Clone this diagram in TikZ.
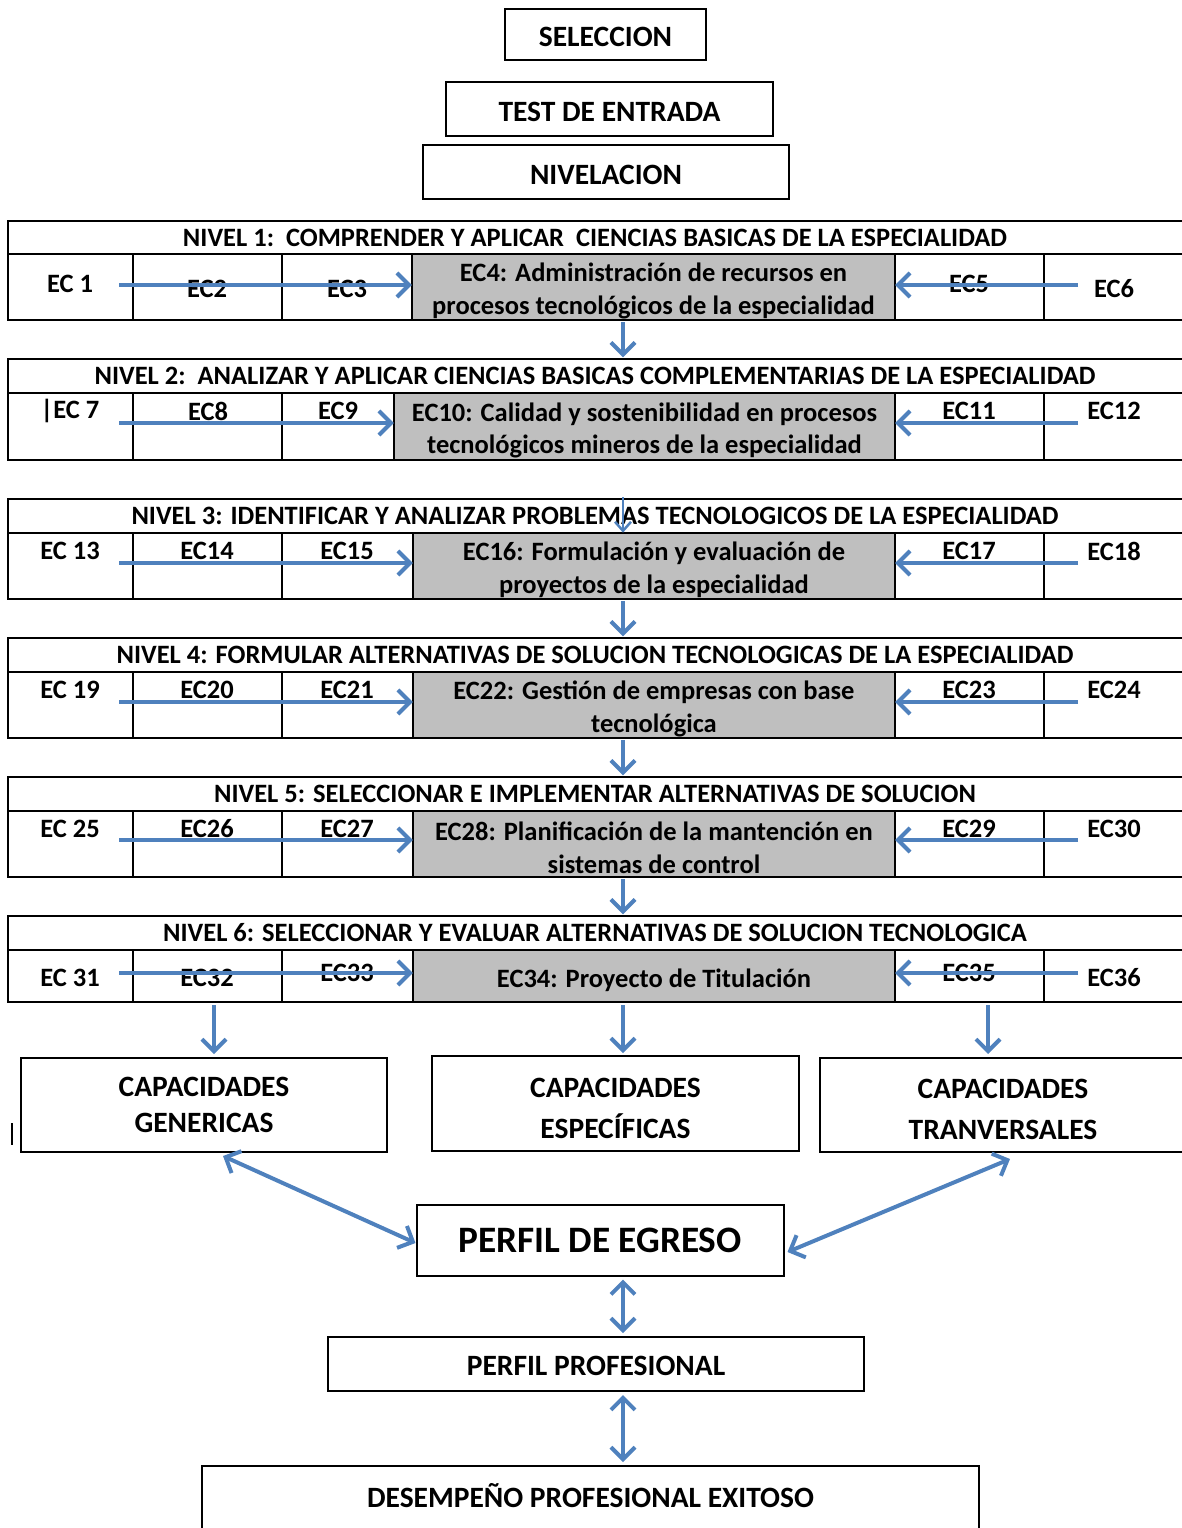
\documentclass[tikz,border=0pt]{standalone}
\usepackage{fontspec}
\setmainfont{Carlito}
\usetikzlibrary{arrows.meta}
\definecolor{arrowblue}{HTML}{4F81BD}
\definecolor{cellgray}{HTML}{BFBFBF}
\newcommand\lvlframe[4]{%
  \draw[frame] (8,#1) rectangle (1195,#3) (8,#2) -- (1195,#2)
    (133,#2) -- (133,#3) (282,#2) -- (282,#3) (#4,#2) -- (#4,#3)
    (895,#2) -- (895,#3) (1044,#2) -- (1044,#3);}
\newcommand\upstrut{\rule{0pt}{26pt}}
\begin{document}
\begin{tikzpicture}[x=1pt,y=-1pt,
  frame/.style={line width=2pt},
  rowfont/.style={font=\fontsize{26.5}{32.5}\selectfont\bfseries},
  txt/.style={inner sep=0pt, rowfont},
  hdr/.style={inner sep=0pt, minimum width=1174pt, minimum height=33pt, rowfont},
  graycell/.style={fill=cellgray, inner sep=0pt, align=center, minimum width=483pt, minimum height=66pt, rowfont},
  bigbox/.style={draw, line width=2pt, inner sep=0pt, align=center, font=\fontsize{29.5}{36}\selectfont\bfseries},
  onel/.style={text height=25pt, text depth=0pt},
  barb/.tip={Straight Barb[length=12pt,width=24pt]},
  flow/.style={arrowblue, line width=4pt, -barb},
  flowthin/.style={arrowblue, line width=2.5pt, -{Straight Barb[length=9pt,width=16pt]}},
  flowtwo/.style={arrowblue, line width=4pt, barb-barb}]
\useasboundingbox (0,0) rectangle (1182,1528);

% top boxes
\node[bigbox, onel, minimum width=201pt, minimum height=51pt] (sel) at (605.5,34.5) {SELECCION};
\node[bigbox, onel, minimum width=327pt, minimum height=54pt] (test) at (609.5,109) {TEST DE ENTRADA};
\node[bigbox, onel, minimum width=366pt, minimum height=54pt] (niv) at (606,172) {NIVELACION};

% ---------- level 1
\node[graycell] (ec4) at (653.5,287) {\upstrut EC4: Administración de recursos en\\procesos tecnológicos de la especialidad};
\lvlframe{221}{254}{320}{412}
\node[hdr] (h1) at (595,237.5) {NIVEL 1:\ \ COMPRENDER Y APLICAR\ \ CIENCIAS BASICAS DE LA ESPECIALIDAD};
\node[txt] (e1) at (70,284) {EC 1};
\node[txt] (e2) at (207,289) {EC2};
\node[txt] (e3) at (347,289) {EC3};
\node[txt] (e5) at (969,284) {EC5};
\node[txt] (e6) at (1114,289) {EC6};

% ---------- level 2
\node[graycell, minimum width=501pt, minimum height=67pt] (ec10) at (644.5,426.5) {\upstrut EC10: Calidad y sostenibilidad en procesos\\tecnológicos mineros de la especialidad};
\lvlframe{359}{393}{460}{394}
\node[hdr] (h2) at (595,376) {NIVEL 2:\ \ ANALIZAR Y APLICAR CIENCIAS BASICAS COMPLEMENTARIAS DE LA ESPECIALIDAD};
\node[txt] (e7) at (70,411) {|EC 7};
\node[txt] (e8) at (208,411) {EC8};
\node[txt] (e9) at (338,411) {EC9};
\node[txt] (e11) at (969,411) {EC11};
\node[txt] (e12) at (1114,411) {EC12};

% ---------- level 3
\node[graycell, minimum width=482pt] (ec16) at (654,566) {\upstrut EC16: Formulación y evaluación de\\proyectos de la especialidad};
\lvlframe{499}{533}{599}{413}
\node[hdr] (h3) at (595,516) {NIVEL 3: IDENTIFICAR Y ANALIZAR PROBLEMAS TECNOLOGICOS DE LA ESPECIALIDAD};
\node[txt] (e13) at (70,551) {EC 13};
\node[txt] (e14) at (207,551) {EC14};
\node[txt] (e15) at (347,551) {EC15};
\node[txt] (e17) at (969,551) {EC17};
\node[txt] (e18) at (1114,551) {EC18};

% ---------- level 4
\node[graycell, minimum width=482pt] (ec22) at (654,705) {\upstrut EC22: Gestión de empresas con base\\tecnológica};
\lvlframe{638}{672}{738}{413}
\node[hdr] (h4) at (595,655) {NIVEL 4: FORMULAR ALTERNATIVAS DE SOLUCION TECNOLOGICAS DE LA ESPECIALIDAD};
\node[txt] (e19) at (70,690) {EC 19};
\node[txt] (e20) at (207,690) {EC20};
\node[txt] (e21) at (347,690) {EC21};
\node[txt] (e23) at (969,690) {EC23};
\node[txt] (e24) at (1114,690) {EC24};

% ---------- level 5
\node[graycell, minimum width=482pt] (ec28) at (654,844) {\upstrut EC28: Planificación de la mantención en\\sistemas de control};
\lvlframe{777}{811}{877}{413}
\node[hdr] (h5) at (595,794) {NIVEL 5: SELECCIONAR E IMPLEMENTAR ALTERNATIVAS DE SOLUCION};
\node[txt] (e25) at (70,829) {EC 25};
\node[txt] (e26) at (207,829) {EC26};
\node[txt] (e27) at (347,829) {EC27};
\node[txt] (e29) at (969,829) {EC29};
\node[txt] (e30) at (1114,829) {EC30};

% ---------- level 6
\node[graycell, minimum width=482pt, minimum height=52pt] (ec34) at (654,976) {\rule{0pt}{28pt}EC34: Proyecto de Titulación};
\lvlframe{916}{950}{1002}{413}
\node[hdr] (h6) at (595,933) {NIVEL 6: SELECCIONAR Y EVALUAR ALTERNATIVAS DE SOLUCION TECNOLOGICA};
\node[txt] (e31) at (70,978) {EC 31};
\node[txt] (e32) at (207,978) {EC32};
\node[txt] (e33) at (347,973) {EC33};
\node[txt] (e35) at (969,973) {EC35};
\node[txt] (e36) at (1114,978) {EC36};

% ---------- bottom boxes
\node[bigbox, minimum width=366pt, minimum height=94pt] (gen) at (204,1105) {CAPACIDADES\\GENERICAS};
\node[bigbox, minimum width=367pt, minimum height=95pt, font=\fontsize{29.5}{41}\selectfont\bfseries] (esp) at (615.5,1103.5) {\rule{0pt}{30pt}CAPACIDADES\\ESPECÍFICAS};
\node[bigbox, minimum width=366pt, minimum height=94pt, font=\fontsize{29.5}{41}\selectfont\bfseries] (tra) at (1003,1105) {\rule{0pt}{28pt}CAPACIDADES\\TRANVERSALES};
\draw[line width=2pt] (12,1123) -- (12,1145);
\node[bigbox, minimum width=367pt, minimum height=71pt, font=\fontsize{37.3}{40}\selectfont\bfseries] (egr) at (600,1240) {PERFIL DE EGRESO};
\node[bigbox, onel, text height=23pt, minimum width=536pt, minimum height=54pt] (prof) at (596,1364) {PERFIL PROFESIONAL};
\node[bigbox, onel, text height=19pt, minimum width=777pt, minimum height=64pt] (des) at (590.5,1498) {DESEMPEÑO PROFESIONAL EXITOSO};

% ---------- horizontal arrows in rows
\foreach \g/\y in {ec4/285, ec10/423, ec16/563, ec22/702, ec28/840, ec34/973}{
  \coordinate (sl) at (119,\y);
  \coordinate (sr) at (1078,\y);
  \draw[flow] (sl) -- (\g.west |- sl);
  \draw[flow] (sr) -- (\g.east |- sr);
}

% ---------- vertical arrows between levels
\coordinate (m1) at (623,322);
\draw[flow, shorten >=2pt] (m1) -- (m1 |- h2.north);
\coordinate (m2) at (623,497);
\draw[flowthin] (m2) -- (m2 |- h3.south);
\coordinate (m3) at (623,601);
\draw[flow, shorten >=2pt] (m3) -- (m3 |- h4.north);
\coordinate (m4) at (623,740);
\draw[flow, shorten >=2pt] (m4) -- (m4 |- h5.north);
\coordinate (m5) at (623,879);
\draw[flow, shorten >=2pt] (m5) -- (m5 |- h6.north);

% ---------- arrows to capacities
\coordinate (g1) at (214,1005);
\draw[flow, shorten >=3pt] (g1) -- (g1 |- gen.north);
\coordinate (g2) at (623,1005);
\draw[flow, shorten >=2pt] (g2) -- (g2 |- esp.north);
\coordinate (g3) at (988,1005);
\draw[flow, shorten >=3pt] (g3) -- (g3 |- tra.north);

% ---------- double arrows
\draw[flowtwo] ([xshift=19pt,yshift=-3pt]gen.south) -- ([yshift=-3pt]egr.west);
\draw[flowtwo] ([xshift=7pt,yshift=-6pt]tra.south) -- ([xshift=3pt,yshift=-12pt]egr.east);
\coordinate (mx) at (623,0);
\draw[flowtwo, shorten <=3pt, shorten >=3pt] (egr.south -| mx) -- (prof.north -| mx);
\draw[flowtwo, shorten <=3pt, shorten >=3pt] (prof.south -| mx) -- (des.north -| mx);
\end{tikzpicture}
\end{document}
